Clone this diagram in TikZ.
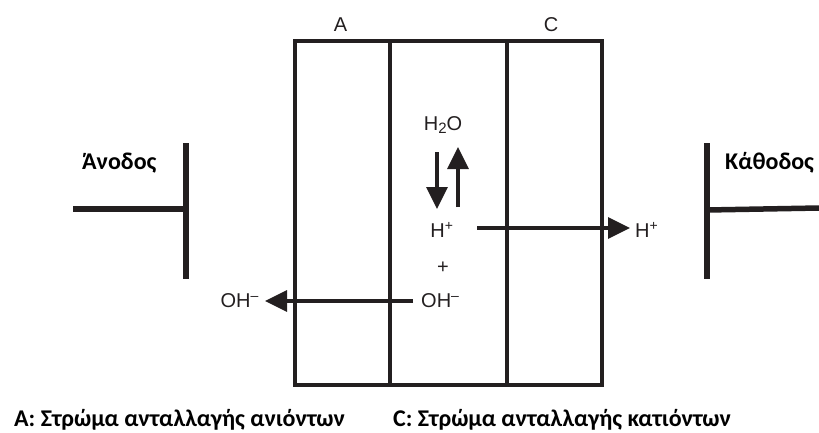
\documentclass[tikz,border=0pt]{standalone}
\usepackage{fontspec}
\setmainfont{Liberation Sans}
\newfontfamily\lblfont{Carlito}[BoldFont={Carlito Bold}]
\usetikzlibrary{arrows.meta}
\definecolor{ink}{RGB}{35,31,32}
\begin{document}
\begin{tikzpicture}[x=1pt,y=-1pt,
  wall/.style={line width=4pt,draw=ink},
  electrode/.style={line width=5.5pt,draw=ink},
  flow/.style={line width=3.2pt,draw=ink,-{Triangle[length=22pt,width=21pt]}},
  chem/.style={font=\fontsize{20}{22}\selectfont,text=ink,inner sep=0pt},
  lbl/.style={font=\lblfont\bfseries\fontsize{24}{26}\selectfont,inner sep=0pt,anchor=west}]
\useasboundingbox (0,0) rectangle (819,432);
% box
\coordinate (tl) at (295,41);
\coordinate (br) at (602,385);
\draw[wall] (tl) rectangle (br);
\coordinate (m1t) at (390,41); \coordinate (m1b) at (390,385);
\coordinate (m2t) at (507,41); \coordinate (m2b) at (507,385);
\draw[wall] (m1t) -- (m1b);
\draw[wall] (m2t) -- (m2b);
\node[chem] (A) at (340.5,24.5) {A};
\node[chem] (C) at (551,24.5) {C};
% electrodes
\coordinate (an1) at (186,143); \coordinate (an2) at (186,279);
\coordinate (an3) at (73,209); \coordinate (an4) at (186,209);
\draw[electrode] (an1) -- (an2);
\draw[electrode] (an3) -- (an4);
\coordinate (ca1) at (707,143); \coordinate (ca2) at (707,279);
\coordinate (ca3) at (707,210); \coordinate (ca4) at (819,208);
\draw[electrode] (ca1) -- (ca2);
\draw[electrode] (ca3) -- (ca4);
\node[lbl] (anode) at (82,163) {Άνοδος};
\node[lbl] (cathode) at (725,163) {Κάθοδος};
% species
\node[chem] (h2o) at (443,125) {H\raisebox{-0.35ex}{\fontsize{15}{15}\selectfont 2}O};
\coordinate (d1) at (437,152); \coordinate (d2) at (437,209);
\coordinate (u1) at (458,207); \coordinate (u2) at (458,147);
\draw[flow] (d1) -- (d2);
\draw[flow] (u1) -- (u2);
\node[chem] (hp) at (442,230) {H\textsuperscript{+}};
\node[chem,anchor=west] (hpr) at (635,230) {H\textsuperscript{+}};
\node[chem] (plus) at (443,268) {+};
\node[chem,anchor=west] (oh) at (421,301) {OH\textsuperscript{–}};
\node[chem,anchor=east] (ohl) at (259,301) {OH\textsuperscript{–}};
\coordinate (hs) at (477,228);
\draw[flow] (hs) -- ([xshift=-5pt]hpr.west |- hs);
\coordinate (os) at (413,301);
\draw[flow] (os) -- ([xshift=6pt]ohl.east |- os);
% bottom labels
\node[lbl] (la) at (14,420) {A: Στρώμα ανταλλαγής ανιόντων};
\node[lbl] (lc) at (393,420) {C: Στρώμα ανταλλαγής κατιόντων};
\end{tikzpicture}
\end{document}
